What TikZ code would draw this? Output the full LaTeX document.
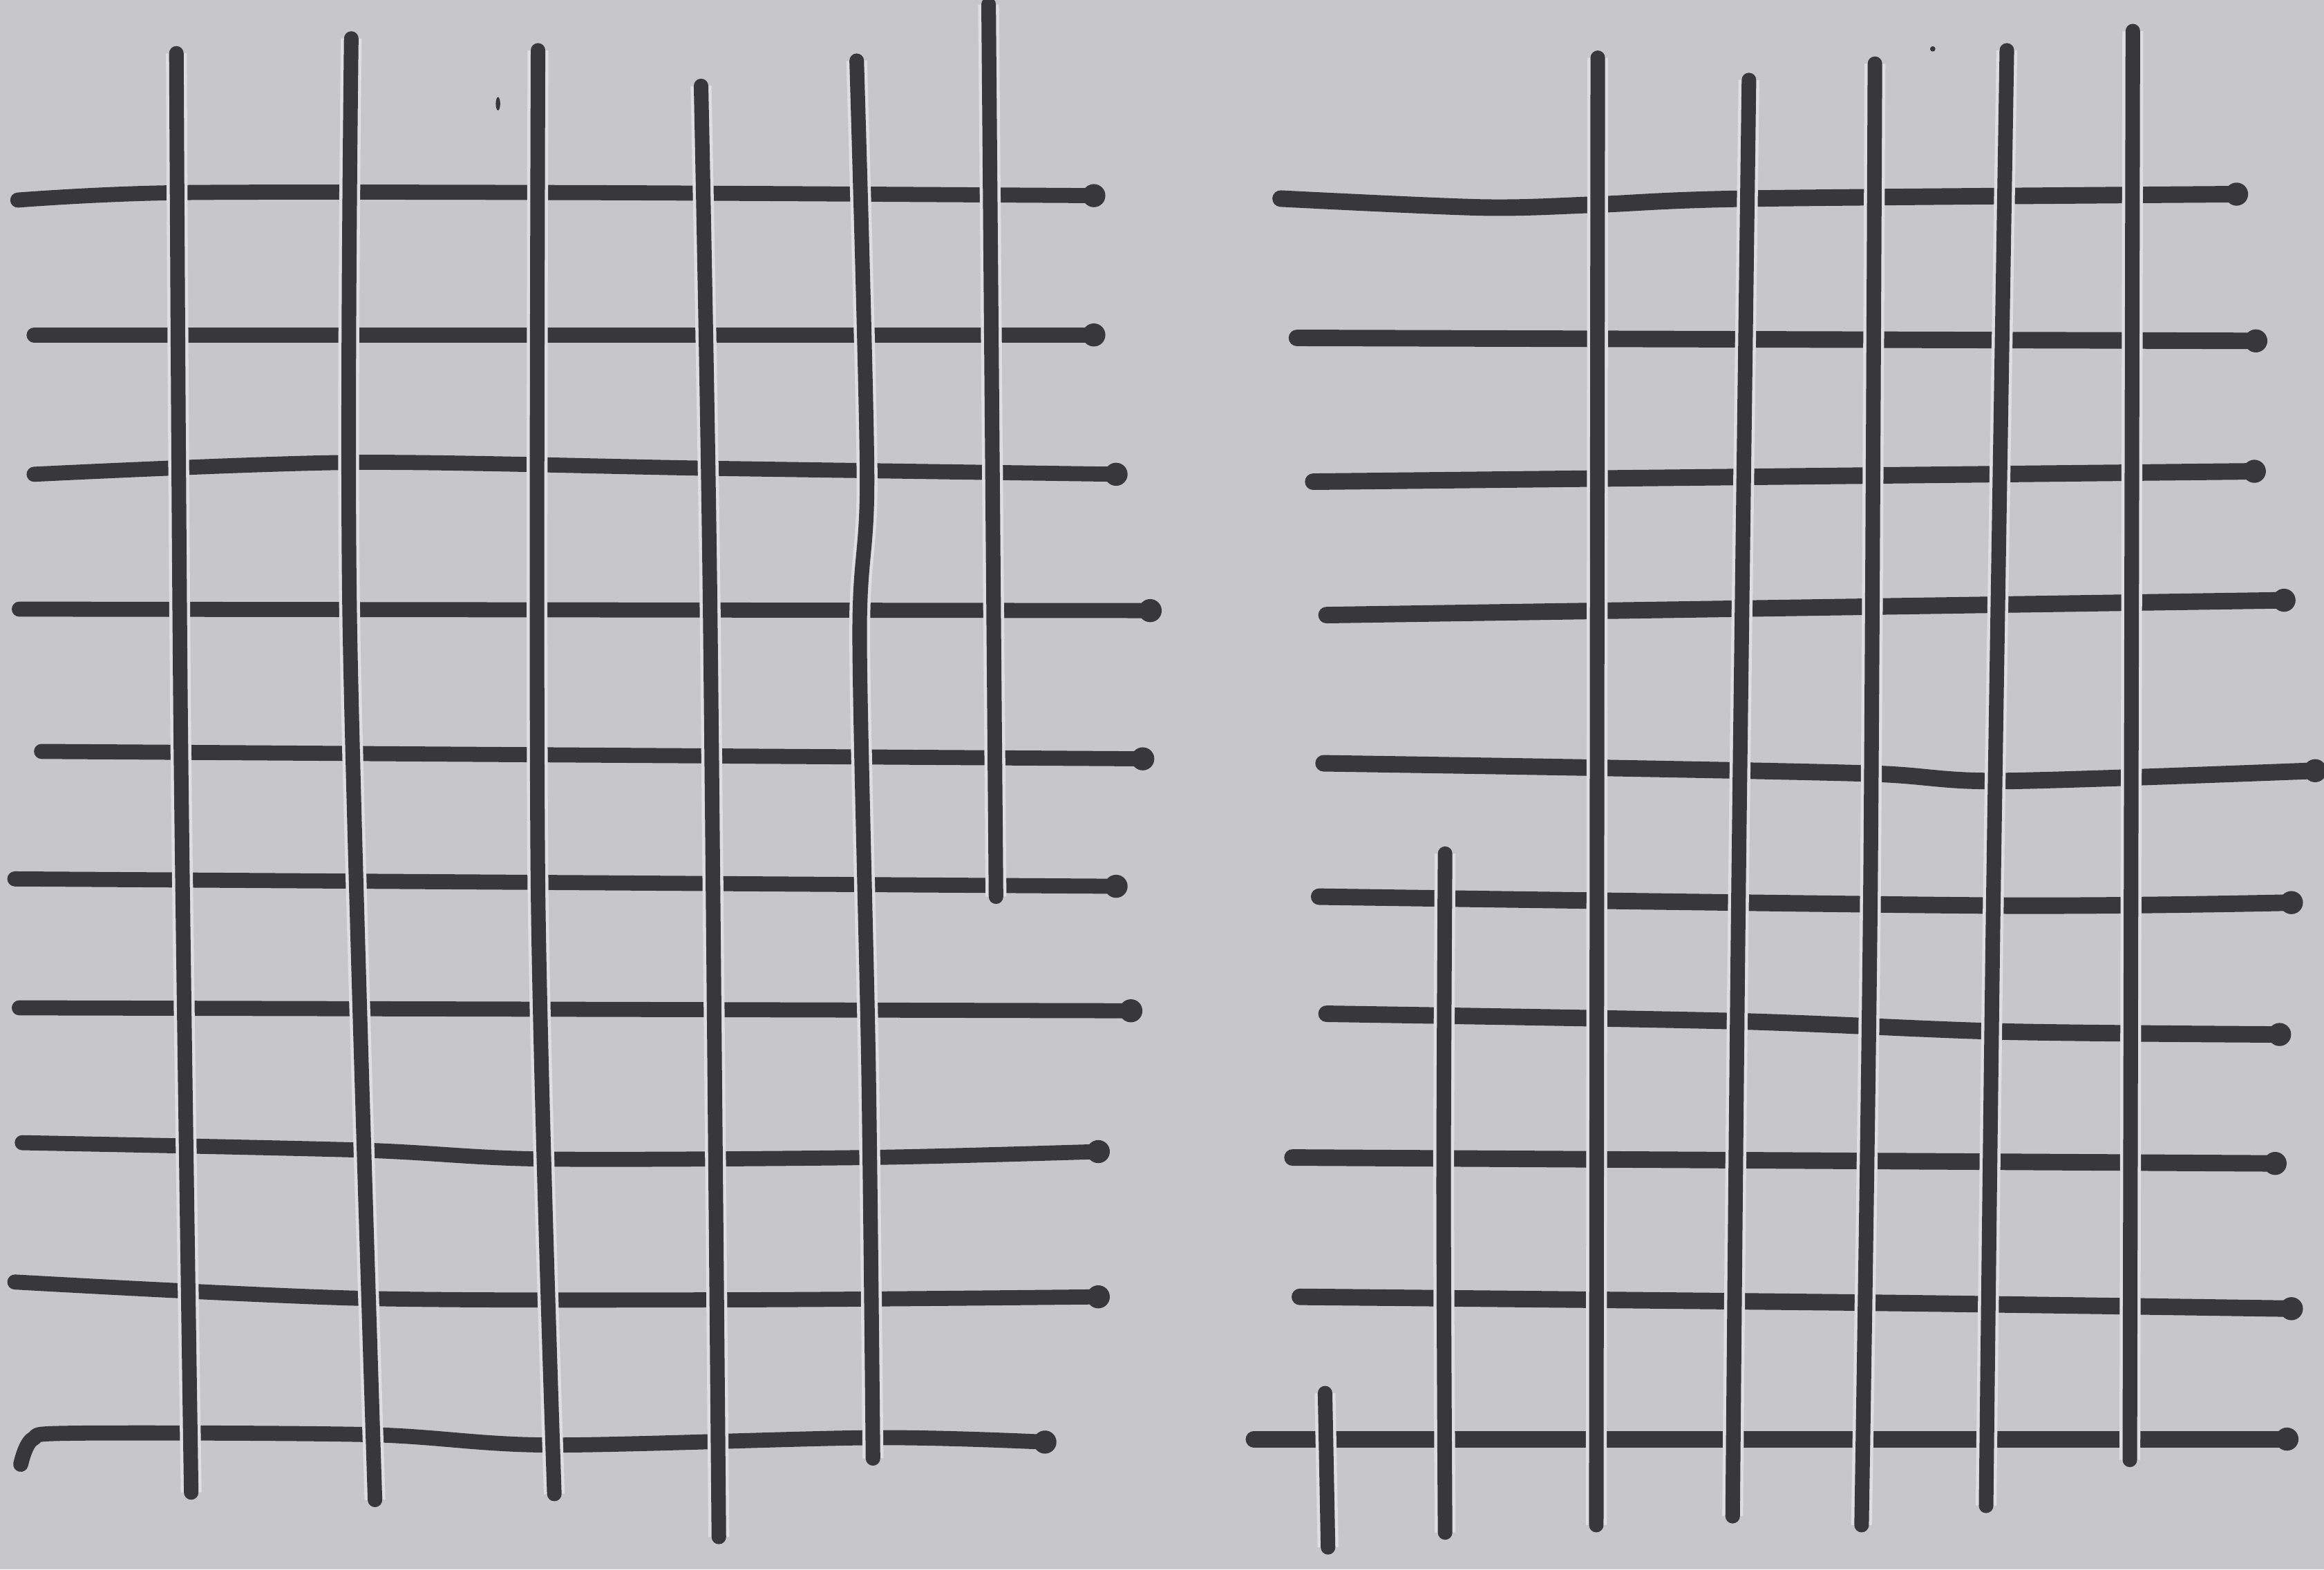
\documentclass[tikz,border=0pt]{standalone}
\usepackage{tikz}
\usepackage{xcolor}

\definecolor{paper}{RGB}{199,199,201}
\definecolor{ink}{RGB}{56,56,58}
\definecolor{gap}{RGB}{222,222,222}

\begin{document}
\begin{tikzpicture}[
  x=0.021448cm, y=-0.021448cm,
  warp/.style={draw=ink,line width=6pt,line cap=round,line join=round,preaction={draw=gap,line width=8.6pt,line cap=butt}},
  weft/.style={draw=ink,line width=6.2pt,line cap=round,line join=round},
  knot/.style={circle,fill=ink,inner sep=0pt,minimum size=9.5pt}
]
  \fill[paper] (0,0) rectangle (1568,1059);
  \useasboundingbox (0,0) rectangle (1568,1059);

  % left cloth: weft
  \draw[weft] plot[smooth] coordinates {(12,135) (120,130) (400,130) (738,132)} node[knot] {};
  \draw[weft] (23,226) -- (738,226) node[knot] {};
  \draw[weft] plot[smooth] coordinates {(23,320) (237,312) (480,316) (753,320)} node[knot] {};
  \draw[weft] (13,411) -- (776,412) node[knot] {};
  \draw[weft] (28,507) -- (771,512) node[knot] {};
  \draw[weft] (10,593) -- (753,598) node[knot] {};
  \draw[weft] (13,680) -- (763,682) node[knot] {};
  \draw[weft] plot[smooth] coordinates {(15,771) (243,776) (365,782) (585,781) (741,777)} node[knot] {};
  \draw[weft] plot[smooth] coordinates {(10,865) (243,876) (500,877) (741,875)} node[knot] {};
  \draw[weft] plot[smooth] coordinates {(14,988) (22,971) (50,967) (250,968) (370,975) (590,970) (705,973)} node[knot] {};

  % left cloth: warp
  \draw[warp] plot[smooth] coordinates {(119,36) (122,500) (129,1007)};
  \draw[warp] plot[smooth] coordinates {(237,26) (236,420) (253,1012)};
  \draw[warp] plot[smooth] coordinates {(363,34) (363,600) (374,1008)};
  \draw[warp] plot[smooth] coordinates {(473,58) (479,400) (485,1037)};
  \draw[warp] plot[smooth] coordinates {(578,41) (585,320) (580,430) (586,720) (589,984)};
  \draw[warp] (667,3) -- (672,605);

  % right cloth: weft
  \draw[weft,line width=6.8pt] plot[smooth] coordinates {(864,134) (1000,140) (1078,138) (1180,134) (1509,131)} node[knot] {};
  \draw[weft,line width=6.8pt] (875,228) -- (1522,230) node[knot] {};
  \draw[weft,line width=6.8pt] (886,325) -- (1521,318) node[knot] {};
  \draw[weft,line width=6.8pt] (895,415) -- (1541,405) node[knot] {};
  \draw[weft,line width=6.8pt] plot[smooth] coordinates {(893,515) (1075,518) (1263,522) (1350,527) (1562,520)} node[knot] {};
  \draw[weft,line width=6.8pt] plot[smooth] coordinates {(890,605) (1345,611) (1546,609)} node[knot] {};
  \draw[weft,line width=6.8pt] plot[smooth] coordinates {(895,684) (1170,689) (1350,696) (1538,698)} node[knot] {};
  \draw[weft,line width=6.8pt] (872,781) -- (1535,785) node[knot] {};
  \draw[weft,line width=6.8pt] plot[smooth] coordinates {(877,875) (1263,879) (1546,883)} node[knot] {};
  \draw[weft,line width=6.8pt] (846,971) -- (1543,971) node[knot] {};

  % right cloth: warp
  \draw[warp] (1078,39) -- (1077,1029);
  \draw[warp] plot[smooth] coordinates {(1180,54) (1173,600) (1169,1023)};
  \draw[warp] plot[smooth] coordinates {(1265,43) (1262,600) (1256,1029)};
  \draw[warp] plot[smooth] coordinates {(1354,34) (1345,600) (1340,1016)};
  \draw[warp] (1439,21) -- (1437,985);
  \draw[warp] plot[smooth] coordinates {(975,576) (974,800) (975,1034)};
  \draw[warp] (894,940) -- (896,1044);

  % specks
  \fill[ink] (336,70) ellipse (1.5 and 4.5);
  \fill[ink] (1304,33) circle (1.8);
\end{tikzpicture}
\end{document}
